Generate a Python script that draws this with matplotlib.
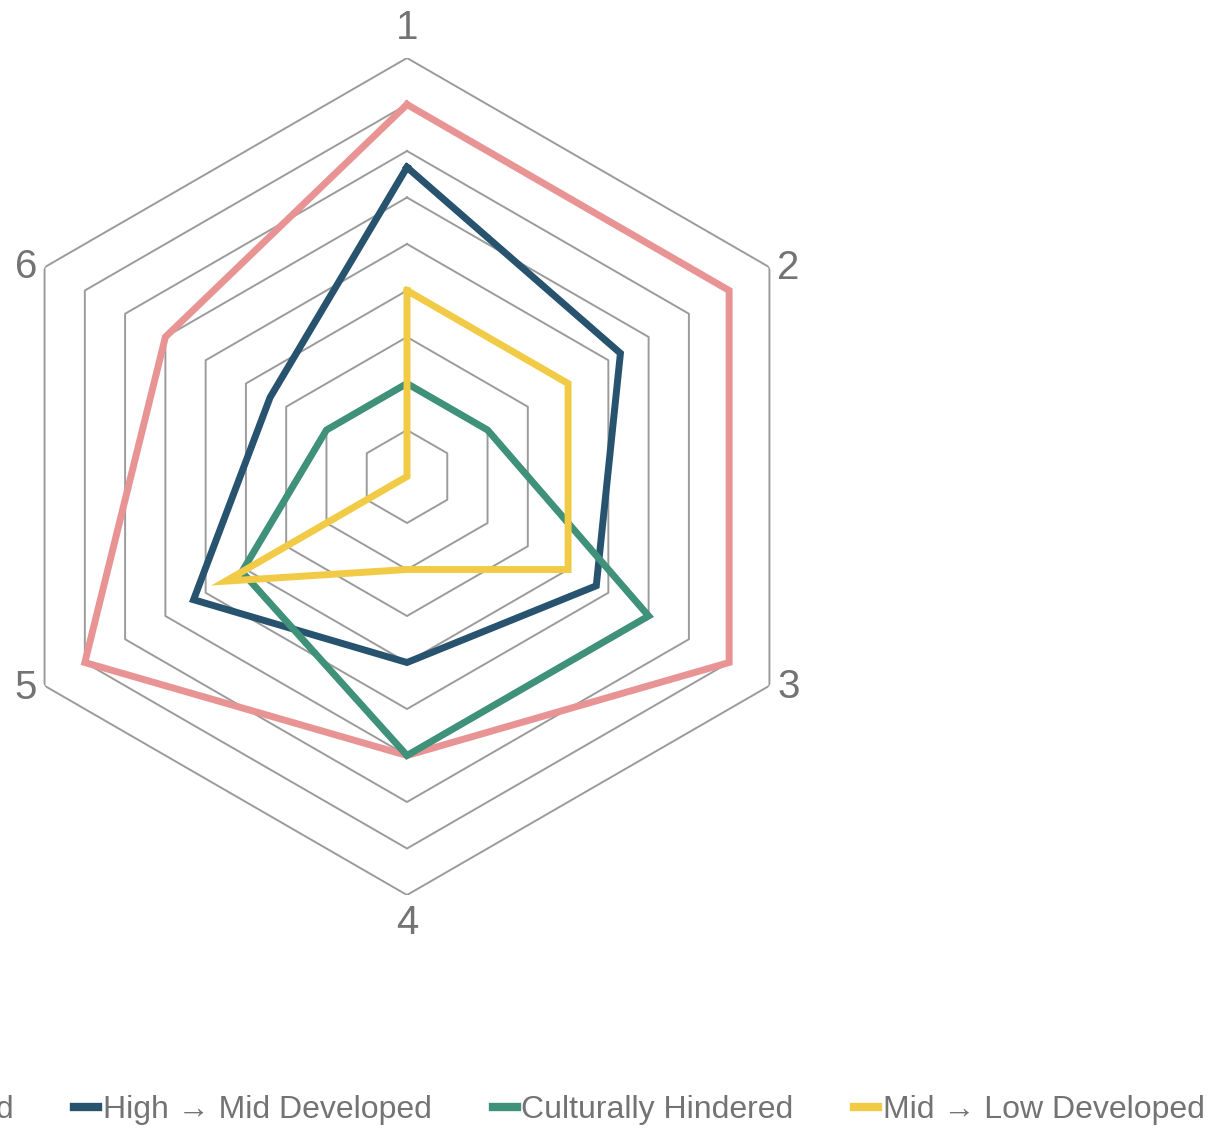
import numpy as np
import matplotlib
matplotlib.use('Agg')
import matplotlib.pyplot as plt
from matplotlib.transforms import offset_copy

plt.rcParams['font.family'] = ['Liberation Sans', 'DejaVu Sans']

axis_labels = ['1', '2', '3', '4', '5', '6']
high = [8, 8, 8, 6, 8, 6]
high_mid = [6.65, 5.3, 4.7, 4.0, 5.3, 3.4]
cultural = [2, 2, 6, 6, 4.1, 2]
mid_low = [4, 4, 4, 2, 4.5, 0]

series = [
    ('High Developed', high, '#e99494'),
    ('High \u2192 Mid Developed', high_mid, '#27536f'),
    ('Culturally Hindered', cultural, '#3f9179'),
    ('Mid \u2192 Low Developed', mid_low, '#f1cb45'),
]

W, H = 1209, 1128
fig = plt.figure(figsize=(W / 100, H / 100), dpi=100)
cx, cy, R = 407, 476.5, 418.5
ax = fig.add_axes([(cx - R) / W, (H - cy - R) / H, 2 * R / W, 2 * R / H],
                  projection='polar')
ax.set_theta_zero_location('N')
ax.set_theta_direction(-1)
ax.set_ylim(0, 9)
ax.grid(False)
ax.spines['polar'].set_visible(False)
ax.set_xticks([])
ax.set_yticks([])
ax.patch.set_alpha(0)

n = len(axis_labels)
theta = np.arange(n) * 2 * np.pi / n
theta_c = np.append(theta, theta[0])

# hexagon rings
for r in range(1, 10):
    ax.plot(theta_c, [r] * (n + 1), color='#9b9b9b', lw=1.4, zorder=1)

for name, vals, col in series:
    v = list(vals) + [vals[0]]
    ax.plot(theta_c, v, color=col, lw=5, label=name, zorder=3,
            solid_joinstyle='miter')

# axis labels (offsets in pixels from outer vertex)
offs = [(0, 30, 'center'), (19, -1, 'center'), (19.5, -1, 'center'),
        (0, -28, 'center'), (-18.6, -2, 'center'), (-18.6, 0, 'center')]
for t, lab, (dx, dy, ha) in zip(theta, axis_labels, offs):
    tr = offset_copy(ax.transData, fig=fig, x=dx, y=dy, units='dots')
    ax.text(t, 9, lab, transform=tr, ha=ha, va='center', fontsize=29,
            color='#737373', clip_on=False)

leg = fig.legend(loc='center right', bbox_to_anchor=(1205 / W, 1 - 1110 / H),
                 ncol=4, frameon=False, fontsize=23, handlelength=0.75,
                 handletextpad=0.15, columnspacing=1.9, borderpad=0,
                 borderaxespad=0)
for t in leg.get_texts():
    t.set_color('#737373')
for h in leg.get_lines():
    h.set_linewidth(6)

fig.savefig('out.png', dpi=100)
